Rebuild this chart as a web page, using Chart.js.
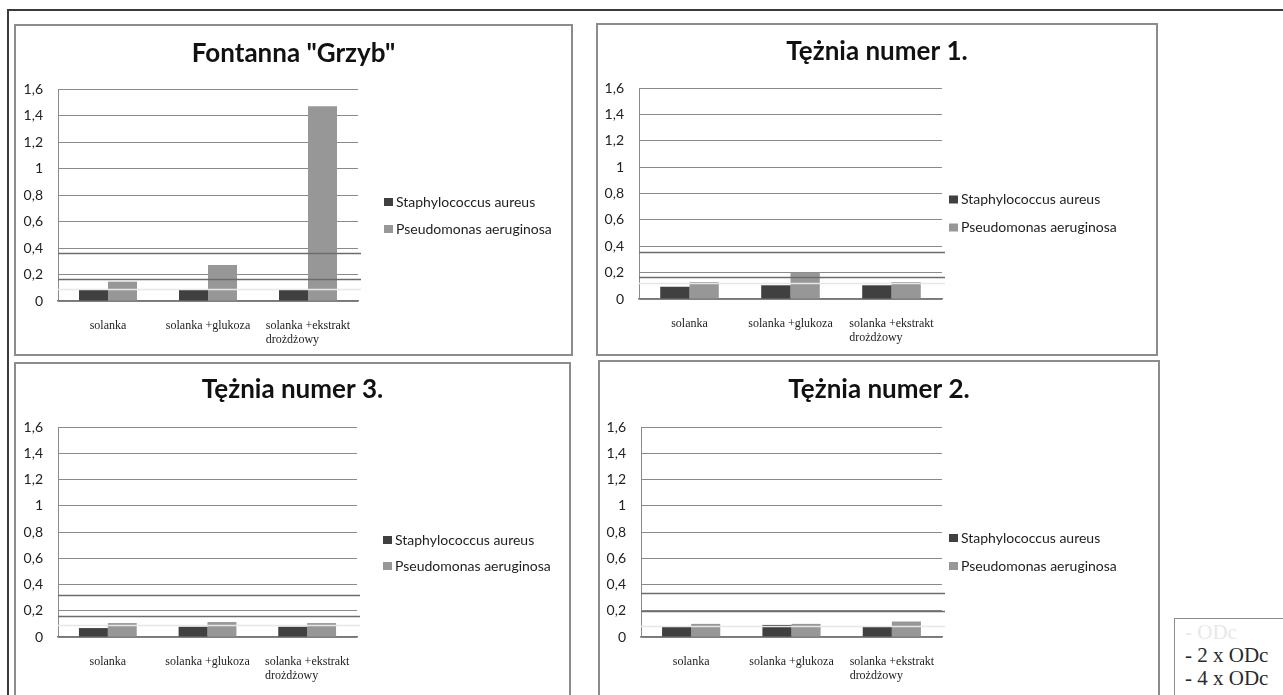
<!DOCTYPE html>
<html>
<head>
<meta charset="utf-8">
<title>Fontanna i tężnie – OD</title>
<script src="https://cdn.jsdelivr.net/npm/chart.js@4.4.1/dist/chart.umd.min.js"></script>
<style>
  html, body { margin: 0; padding: 0; background: #fff; }
  body { width: 1283px; height: 695px; position: relative; overflow: hidden; }
  .frame-top { position: absolute; left: 7px; top: 9px; width: 1276px; height: 2px; background: #3a3a3a; }
  .frame-left { position: absolute; left: 7px; top: 9px; width: 2px; height: 686px; background: #3a3a3a; }
  .panel { position: absolute; box-sizing: border-box; border: 2px solid #8c8c8c; }
  canvas { position: absolute; }
  .key {
    position: absolute; left: 1174px; top: 618px; width: 120px; height: 90px;
    box-sizing: border-box; border: 1.5px solid #8c8c8c;
    font-family: "Liberation Serif", "Times New Roman", serif; font-size: 21px; line-height: 23px;
    padding: 2px 0 0 10px; color: #2a2a2a;
  }
  .key div { white-space: pre; }
</style>
</head>
<body>
<div class="frame-top"></div>
<div class="frame-left"></div>
<div class="key" id="key"></div>

<script>
// ---- data ----
const categories = ['solanka', 'solanka +glukoza', ['solanka +ekstrakt', 'drożdżowy']];
const seriesNames = ['Staphylococcus aureus', 'Pseudomonas aeruginosa'];
const yTickLabels = ['0', '0,2', '0,4', '0,6', '0,8', '1', '1,2', '1,4', '1,6'];
const odcLabels = ['- ODc', '- 2 x ODc', '- 4 x ODc'];

const fontannaTitle = 'Fontanna "Grzyb"';
const fontannaStaph = [0.083, 0.083, 0.083];
const fontannaPseudo = [0.146, 0.272, 1.47];
const fontannaOdc = [0.088, 0.168, 0.36];

const teznia1Title = 'Tężnia numer 1.';
const teznia1Staph = [0.093, 0.104, 0.104];
const teznia1Pseudo = [0.128, 0.2, 0.128];
const teznia1Odc = [0.118, 0.165, 0.356];

const teznia3Title = 'Tężnia numer 3.';
const teznia3Staph = [0.068, 0.078, 0.078];
const teznia3Pseudo = [0.106, 0.114, 0.106];
const teznia3Odc = [0.094, 0.157, 0.319];

const teznia2Title = 'Tężnia numer 2.';
const teznia2Staph = [0.076, 0.092, 0.076];
const teznia2Pseudo = [0.1, 0.1, 0.118];
const teznia2Odc = [0.081, 0.2, 0.339];

// ---- styling ----
const barColors = ['#404040', '#979797'];
const odcStyles = [
  { color: '#e6e6e6', width: 1.6 },
  { color: '#6c6c6c', width: 1.3 },
  { color: '#6c6c6c', width: 1.3 }
];
const titleSize = 26;

// panel frames (page px) and inner plot rectangle (canvas px)
const panels = [
  { x: 14, y: 24, w: 559, h: 332, area: { left: 44, right: 344, top: 65, bottom: 277 }, titleY: 30, keyDx: 26, keyDy: [7, 34],
    title: fontannaTitle, staph: fontannaStaph, pseudo: fontannaPseudo, odc: fontannaOdc },
  { x: 596, y: 23, w: 562, h: 333, area: { left: 43, right: 346, top: 65, bottom: 276 }, titleY: 29, keyDx: 7, keyDy: [6, 34],
    title: teznia1Title, staph: teznia1Staph, pseudo: teznia1Pseudo, odc: teznia1Odc },
  { x: 14, y: 362, w: 557, h: 340, area: { left: 44, right: 343, top: 65, bottom: 275 }, titleY: 28, keyDx: 26, keyDy: [8, 34],
    title: teznia3Title, staph: teznia3Staph, pseudo: teznia3Pseudo, odc: teznia3Odc },
  { x: 598, y: 360, w: 562, h: 342, area: { left: 43, right: 344, top: 67, bottom: 277 }, titleY: 30, keyDx: 7, keyDy: [6, 34],
    title: teznia2Title, staph: teznia2Staph, pseudo: teznia2Pseudo, odc: teznia2Odc }
];

// horizontal ODc threshold lines, drawn over the bars
const odcLinesPlugin = {
  id: 'odcLines',
  afterDatasetsDraw(chart, args, opts) {
    const { ctx, chartArea } = chart;
    const y = chart.scales.y;
    ctx.save();
    (opts.levels || []).forEach((v, i) => {
      const st = odcStyles[i];
      const py = Math.round(y.getPixelForValue(v)) + 0.5;
      ctx.strokeStyle = st.color;
      ctx.lineWidth = st.width;
      ctx.beginPath();
      ctx.moveTo(chartArea.left, py);
      ctx.lineTo(chartArea.right + 3, py);
      ctx.stroke();
    });
    ctx.restore();
  }
};

// category labels: first line centred under the group, following lines aligned to its left edge
const categoryLabelsPlugin = {
  id: 'categoryLabels',
  afterDraw(chart, args, opts) {
    const { ctx } = chart;
    const xs = chart.scales.x;
    ctx.save();
    ctx.font = '12px "Liberation Serif", "Times New Roman", serif';
    ctx.fillStyle = '#222';
    ctx.textBaseline = 'middle';
    ctx.textAlign = 'left';
    chart.data.labels.forEach((lab, i) => {
      const lines = Array.isArray(lab) ? lab : [lab];
      const cx = xs.getPixelForValue(i);
      const left = cx - ctx.measureText(lines[0]).width / 2;
      lines.forEach((t, j) => {
        ctx.fillText(t, left, xs.top + opts.offset + j * 14);
      });
    });
    ctx.restore();
  }
};

// series key to the right of the plot
const seriesKeyPlugin = {
  id: 'seriesKey',
  afterDraw(chart, args, opts) {
    const { ctx, chartArea } = chart;
    const mid = (chartArea.top + chartArea.bottom) / 2;
    const x0 = chartArea.right + opts.dx;
    ctx.save();
    ctx.font = '14px Lato, "Open Sans", sans-serif';
    ctx.textBaseline = 'middle';
    ctx.textAlign = 'left';
    chart.data.datasets.forEach((ds, i) => {
      const yc = mid + opts.dy[i];
      ctx.fillStyle = ds.backgroundColor;
      ctx.fillRect(x0, yc - 4, 9, 8);
      ctx.fillStyle = '#1e1e1e';
      ctx.fillText(ds.label, x0 + 12, yc);
    });
    ctx.restore();
  }
};

const charts = [];

panels.forEach((p) => {
  const frame = document.createElement('div');
  frame.className = 'panel';
  frame.style.left = p.x + 'px';
  frame.style.top = p.y + 'px';
  frame.style.width = p.w + 'px';
  frame.style.height = p.h + 'px';
  document.body.appendChild(frame);

  const cv = document.createElement('canvas');
  cv.width = p.w; cv.height = p.h;
  cv.style.left = p.x + 'px';
  cv.style.top = p.y + 'px';
  cv.style.width = p.w + 'px';
  cv.style.height = p.h + 'px';
  document.body.appendChild(cv);

  const titleLine = titleSize * 1.2;
  const titleTop = p.titleY - titleLine / 2;

  charts.push(new Chart(cv, {
    type: 'bar',
    data: {
      labels: categories,
      datasets: [
        { label: seriesNames[0], data: p.staph, backgroundColor: barColors[0], borderWidth: 0, barPercentage: 1, categoryPercentage: 0.58 },
        { label: seriesNames[1], data: p.pseudo, backgroundColor: barColors[1], borderWidth: 0, barPercentage: 1, categoryPercentage: 0.58 }
      ]
    },
    options: {
      responsive: false,
      animation: false,
      devicePixelRatio: 1,
      layout: { padding: 0 },
      plugins: {
        legend: { display: false },
        tooltip: { enabled: false },
        title: {
          display: true,
          text: p.title,
          color: '#111',
          font: { family: 'Lato, "Open Sans", sans-serif', size: titleSize, weight: 'bold', lineHeight: 1.2 },
          padding: { top: titleTop, bottom: p.area.top - titleTop - titleLine }
        },
        odcLines: { levels: p.odc },
        categoryLabels: { offset: 25 },
        seriesKey: { dx: p.keyDx, dy: p.keyDy }
      },
      scales: {
        x: {
          grid: { display: false, drawTicks: false },
          border: { display: true, color: '#787878', width: 1.5 },
          ticks: { display: false },
          afterFit: s => { s.height = p.h - p.area.bottom; }
        },
        y: {
          min: 0, max: 1.6,
          grid: { color: '#8a8a8a', lineWidth: 1, drawTicks: false },
          border: { display: true, color: '#8a8a8a', width: 1 },
          ticks: {
            stepSize: 0.2, padding: 15, color: '#222',
            font: { family: 'Lato, "Open Sans", sans-serif', size: 14 },
            callback: v => yTickLabels[Math.round(v / 0.2)]
          },
          afterFit: s => { s.width = p.area.left; }
        },
        side: {
          type: 'linear', position: 'right', display: true,
          grid: { display: false, drawTicks: false },
          border: { display: false },
          ticks: { display: false },
          afterFit: s => { s.width = p.w - p.area.right; }
        }
      }
    },
    plugins: [odcLinesPlugin, categoryLabelsPlugin, seriesKeyPlugin]
  }));
});

// threshold key box
const key = document.getElementById('key');
odcLabels.forEach((t, i) => {
  const d = document.createElement('div');
  d.textContent = t;
  if (i === 0) d.style.color = '#e8e8e8';
  key.appendChild(d);
});

if (document.fonts && document.fonts.ready) {
  document.fonts.ready.then(() => charts.forEach(c => c.update()));
}
</script>
</body>
</html>
